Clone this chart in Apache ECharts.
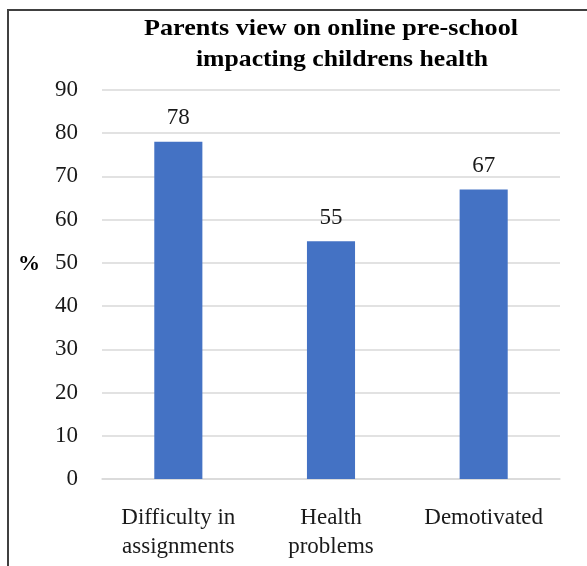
<!DOCTYPE html>
<html>
<head>
<meta charset="utf-8">
<script src="https://cdn.jsdelivr.net/npm/echarts@6/dist/echarts.min.js"></script>
<style>html,body{margin:0;padding:0;background:#fff}#c{width:587px;height:566px}</style>
</head>
<body>
<div id="c"></div>
<script>
var categories = ['Difficulty in\nassignments', 'Health\nproblems', 'Demotivated'];
var values = [78, 55, 67];
var titleLines = ['Parents view on online pre-school', 'impacting childrens health'];
var yName = '%';

var chart = echarts.init(document.getElementById('c'), null, {renderer: 'canvas'});
var serif = '"Liberation Serif", "Times New Roman", serif';
chart.setOption({
  animation: false,
  backgroundColor: '#ffffff',
  grid: {left: 102, right: 27, top: 90, bottom: 87},
  xAxis: {
    type: 'category',
    data: categories,
    axisTick: {show: false},
    axisLine: {lineStyle: {color: '#d9d9d9', width: 1.5}},
    axisLabel: {fontFamily: serif, fontSize: 23, color: '#1a1a1a', lineHeight: 29, margin: 24, interval: 0}
  },
  yAxis: {
    type: 'value', min: 0, max: 90, interval: 10,
    axisLine: {show: false}, axisTick: {show: false},
    splitLine: {lineStyle: {color: '#d9d9d9', width: 1.5}},
    axisLabel: {fontFamily: serif, fontSize: 23, color: '#1a1a1a', margin: 24}
  },
  series: [{
    type: 'bar',
    data: values,
    barWidth: '31.5%',
    itemStyle: {color: '#4472C4'},
    label: {show: true, position: 'top', distance: 12, fontFamily: serif, fontSize: 23, color: '#1a1a1a'}
  }],
  graphic: [
    {type: 'line', shape: {x1: 8, y1: 10, x2: 8, y2: 566}, style: {stroke: '#404040', lineWidth: 2}},
    {type: 'line', shape: {x1: 7, y1: 10, x2: 587, y2: 10}, style: {stroke: '#404040', lineWidth: 2}},
    {type: 'text', x: 331, y: 29, scaleX: 1.09, style: {text: titleLines[0], font: 'bold 24px ' + serif, fill: '#000', textAlign: 'center', textVerticalAlign: 'middle'}},
    {type: 'text', x: 342, y: 60, scaleX: 1.07, style: {text: titleLines[1], font: 'bold 24px ' + serif, fill: '#000', textAlign: 'center', textVerticalAlign: 'middle'}},
    {type: 'text', x: 29, y: 264, style: {text: yName, font: 'bold 22px ' + serif, fill: '#000', textAlign: 'center', textVerticalAlign: 'middle'}}
  ]
});
</script>
</body>
</html>
